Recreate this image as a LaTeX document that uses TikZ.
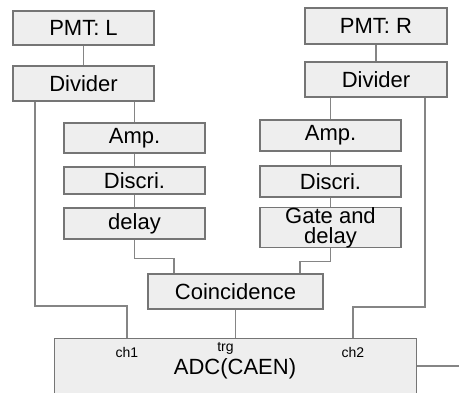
\documentclass[tikz,border=0pt]{standalone}
\usepackage{fontspec}
\setmainfont{Liberation Sans}
\definecolor{boxfill}{HTML}{EEEEEE}
\definecolor{boxline}{HTML}{757575}
\definecolor{wire}{HTML}{858585}
\begin{document}
\begin{tikzpicture}[x=1pt,y=-1pt,
  blk/.style={draw=boxline,fill=boxfill,line width=1.4pt,inner sep=0pt,
    font=\fontsize{22}{20}\selectfont,align=center},
  wirestyle/.style={draw=wire,line width=1.4pt},
  tag/.style={font=\fontsize{14}{14}\selectfont,inner sep=0pt}]
\clip (0,0) rectangle (459,392);
\useasboundingbox (0,0) rectangle (459,392);
% left chain
\node[blk,minimum width=141pt,minimum height=34pt] (pmtL) at (83.5,28) {PMT: L};
\node[blk,minimum width=141pt,minimum height=35pt] (divL) at (83.5,83.5) {Divider};
\node[blk,minimum width=141pt,minimum height=30pt] (ampL) at (134.5,138) {Amp.};
\node[blk,minimum width=141pt,minimum height=27pt] (disL) at (134.5,180.5) {Discri.};
\node[blk,minimum width=141pt,minimum height=31pt] (dlyL) at (134.5,223.5) {delay};
% right chain
\node[blk,minimum width=142pt,minimum height=36pt] (pmtR) at (376,26) {PMT: R};
\node[blk,minimum width=142pt,minimum height=35pt] (divR) at (376,79.5) {Divider};
\node[blk,minimum width=141pt,minimum height=31pt] (ampR) at (330.5,135.5) {Amp.};
\node[blk,minimum width=141pt,minimum height=31pt] (disR) at (330.5,181.5) {Discri.};
\node[blk,minimum width=141pt,minimum height=39pt] (gdR) at (330.5,227.5) {Gate and\\delay};
% coincidence and ADC
\node[blk,minimum width=175pt,minimum height=35pt] (coin) at (235.5,291.5) {Coincidence};
\node[blk,minimum width=362pt,minimum height=80pt,anchor=north west] (adc) at (54,338) {};
\node[blk,draw=none,fill=none] (adctxt) at (235,369) {ADC(CAEN)};
\node[tag] (ch1) at (127,352) {ch1};
\node[tag] (trg) at (225.5,348) {trg};
\node[tag] (ch2) at (353,352) {ch2};
\coordinate (outR) at (460,366);
% connectors
\path[wirestyle] (pmtL.south) -- (divL.north);
\path[wirestyle] (divL.south -| ampL.north) -- (ampL.north);
\path[wirestyle] (ampL.south) -- (disL.north);
\path[wirestyle] (disL.south) -- (dlyL.north);
\path[wirestyle] (dlyL.south) -- ++(0,19) -| (coin.north -| 174,0);
\path[wirestyle] (divL.south -| 35,0) |- (127,306) -- (adc.north -| 127,0);
\path[wirestyle] (pmtR.south) -- (divR.north);
\path[wirestyle] (divR.south -| ampR.north) -- (ampR.north);
\path[wirestyle] (ampR.south) -- (disR.north);
\path[wirestyle] (disR.south) -- (gdR.north);
\path[wirestyle] (gdR.south) -- ++(0,13) -| (coin.north -| 300,0);
\path[wirestyle] (divR.south -| 425,0) |- (353,307) -- (adc.north -| 353,0);
\path[wirestyle] (coin.south) -- (adc.north -| coin.south);
\path[wirestyle] (adc.east |- outR) -- (outR);
\end{tikzpicture}
\end{document}
